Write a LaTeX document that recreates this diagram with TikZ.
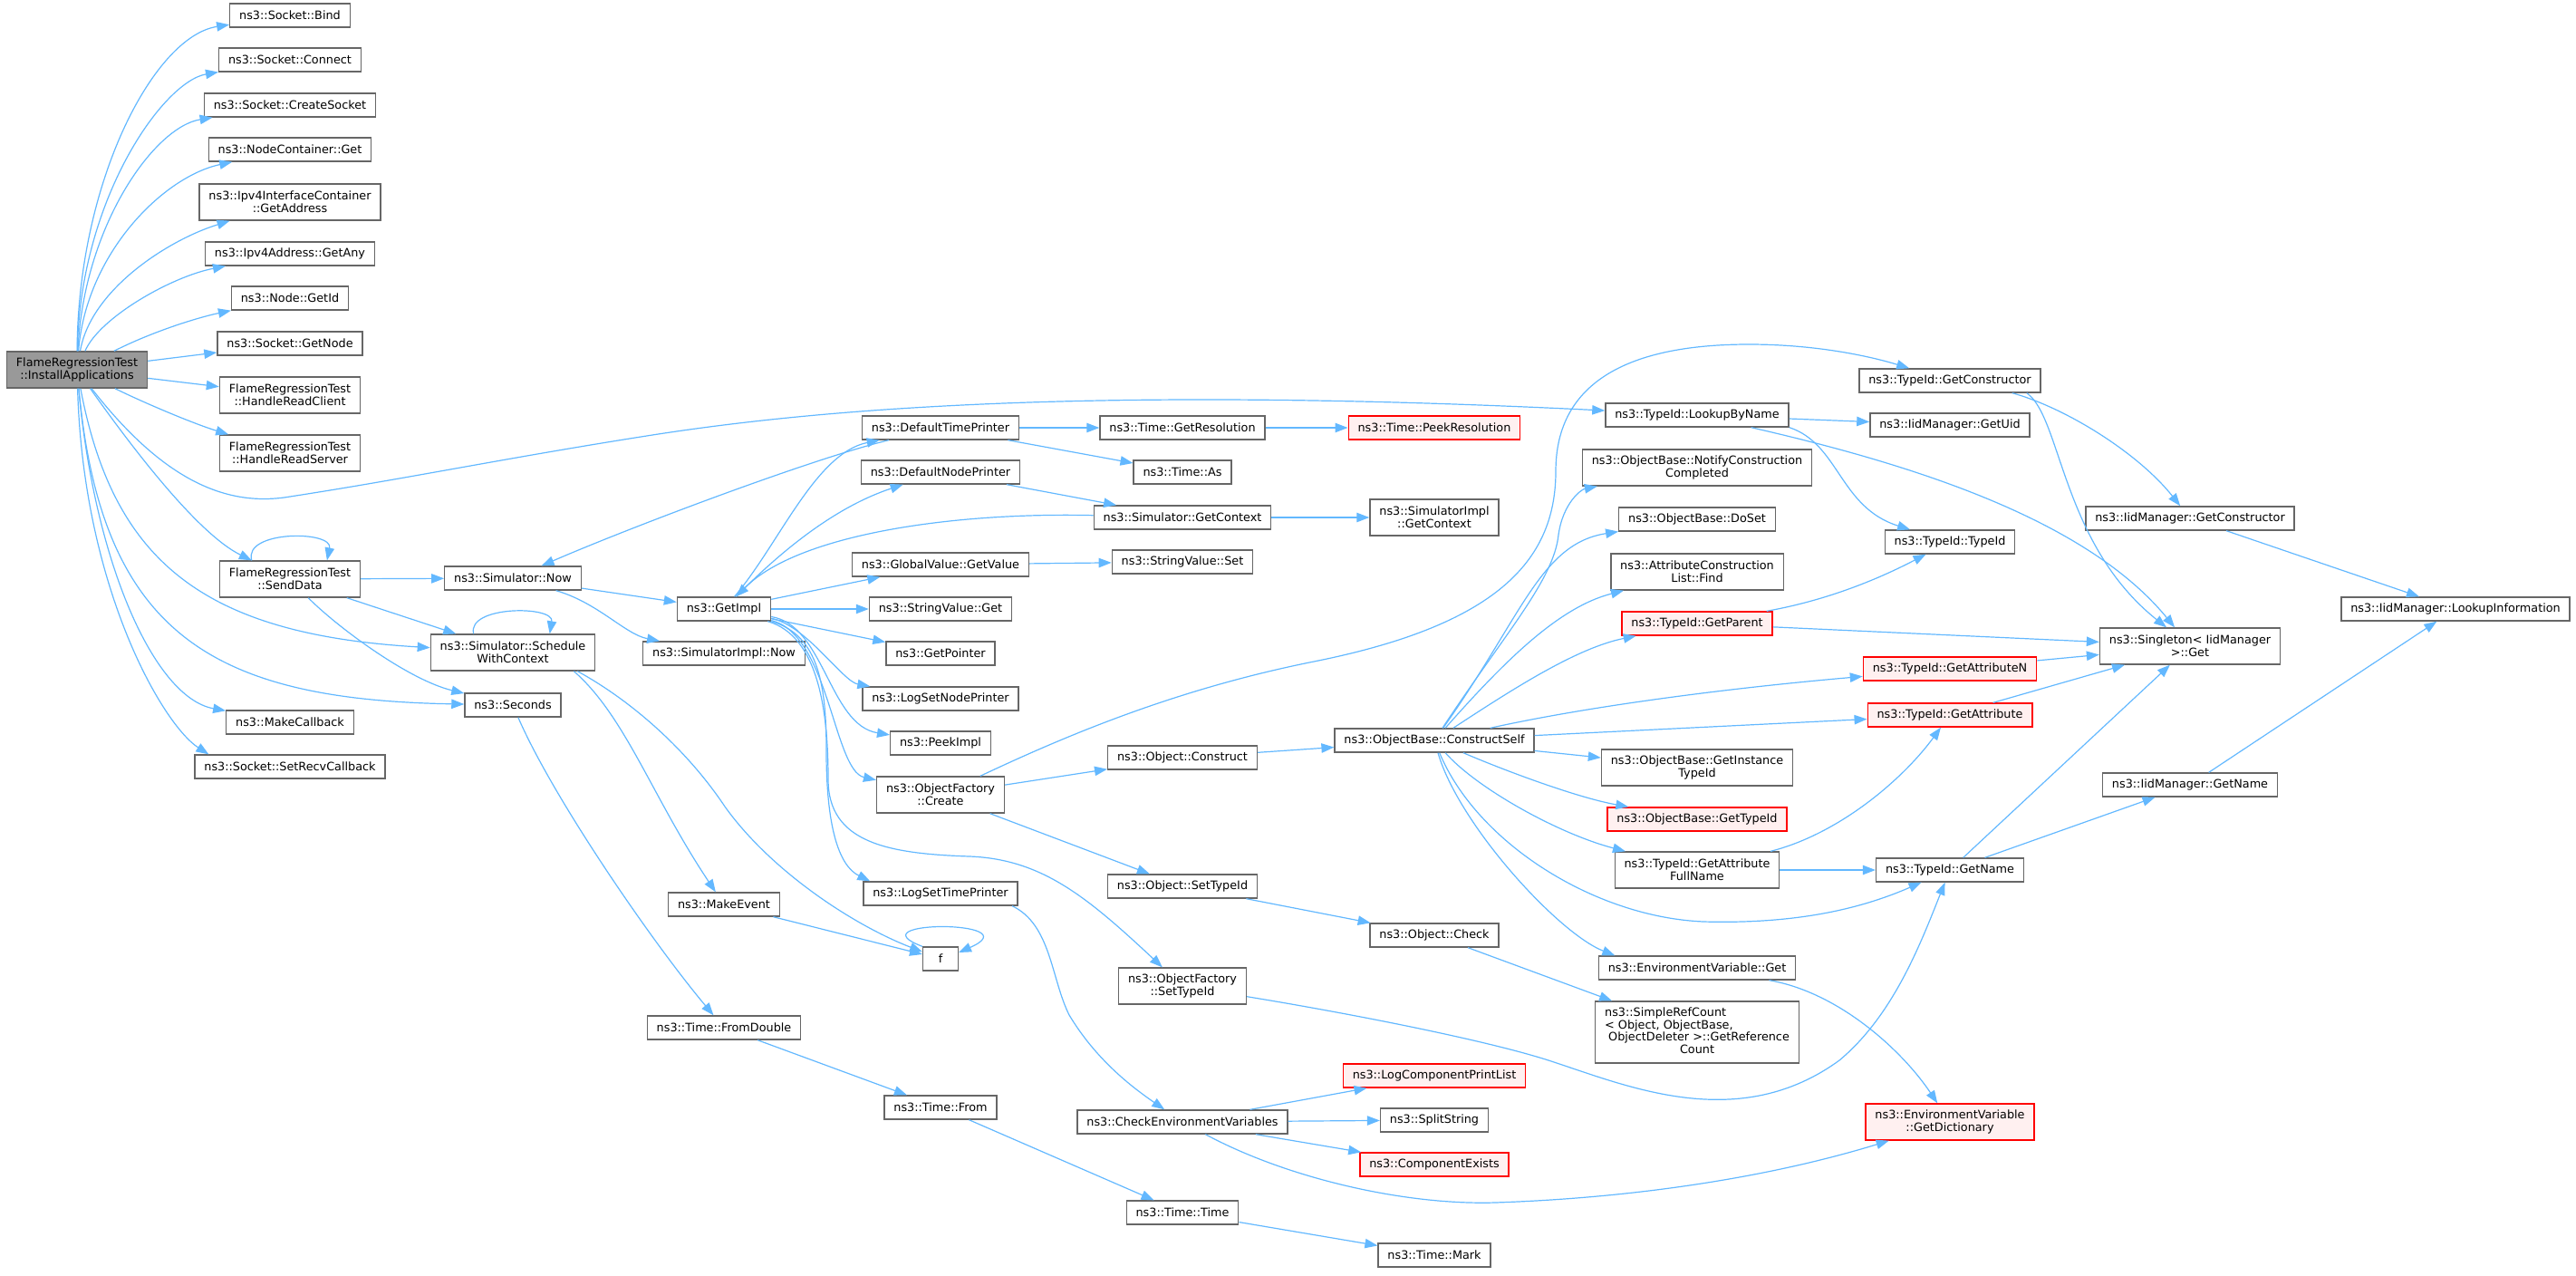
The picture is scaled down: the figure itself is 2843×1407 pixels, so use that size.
\documentclass[tikz,border=0pt]{standalone}
\usepackage{fontspec}
\setmainfont{DejaVu Sans}
\usepackage{tikz}
\usetikzlibrary{arrows.meta}
\definecolor{edgeblue}{HTML}{63B8FF}
\definecolor{boxgray}{HTML}{666666}
\definecolor{rootgray}{HTML}{999999}
\definecolor{missfill}{HTML}{FFF0F0}

\begin{document}
\begin{tikzpicture}[x=0.75pt, y=-0.75pt,
    fn/.style={draw=boxgray, fill=white, line width=1pt, rectangle, align=center,
        inner xsep=7.8pt, inner ysep=2pt, minimum height=19.5pt,
        font=\fontsize{9.6}{10.2}\selectfont},
    fnroot/.style={fn, fill=rootgray},
    fnred/.style={fn, draw=red, fill=missfill},
    dbl/.style={minimum height=30pt},
    quad/.style={minimum height=51pt},
    calls/.style={draw=edgeblue, line width=0.9pt, -{Triangle[length=10.5pt,width=7.8pt]}}]
    \useasboundingbox (0,0) rectangle (2843,1407);

    % Root of the graph
    \node[fnroot, dbl] (IA) at (85,408) {FlameRegressionTest\\::InstallApplications};

    % Second rank
    \node[fn] (SBind)    at (320,17)  {ns3::Socket::Bind};
    \node[fn] (SConn)    at (320,66)  {ns3::Socket::Connect};
    \node[fn] (SCreate)  at (320,116) {ns3::Socket::CreateSocket};
    \node[fn] (NCGet)    at (320,165) {ns3::NodeContainer::Get};
    \node[fn, dbl] (IfAddr) at (320,223) {ns3::Ipv4InterfaceContainer\\::GetAddress};
    \node[fn] (AnyAddr)  at (320,280) {ns3::Ipv4Address::GetAny};
    \node[fn] (NGetId)   at (320,329) {ns3::Node::GetId};
    \node[fn] (SGetNode) at (320,379) {ns3::Socket::GetNode};
    \node[fn, dbl] (HRC) at (320,436) {FlameRegressionTest\\::HandleReadClient};
    \node[fn, dbl] (HRS) at (320,500) {FlameRegressionTest\\::HandleReadServer};
    \node[fn, dbl] (SD)  at (320,639) {FlameRegressionTest\\::SendData};
    \node[fn] (MCb)      at (320,797) {ns3::MakeCallback};
    \node[fn] (SRCb)     at (320,846) {ns3::Socket::SetRecvCallback};

    % Third rank
    \node[fn] (SNow)     at (566,638) {ns3::Simulator::Now};
    \node[fn, dbl] (SWC) at (566,720) {ns3::Simulator::Schedule\\WithContext};
    \node[fn] (Sec)      at (566,778) {ns3::Seconds};

    % Fourth rank
    \node[fn] (GI)       at (799,672)  {ns3::GetImpl};
    \node[fn] (SINow)    at (799,721)  {ns3::SimulatorImpl::Now};
    \node[fn] (MEv)      at (799,998)  {ns3::MakeEvent};
    \node[fn] (TFD)      at (799,1134) {ns3::Time::FromDouble};

    % Fifth rank
    \node[fn] (DTP)      at (1038,472)  {ns3::DefaultTimePrinter};
    \node[fn] (DNP)      at (1038,521)  {ns3::DefaultNodePrinter};
    \node[fn] (GVGet)    at (1038,623)  {ns3::GlobalValue::GetValue};
    \node[fn] (SVGet)    at (1038,672)  {ns3::StringValue::Get};
    \node[fn] (GPtr)     at (1038,721)  {ns3::GetPointer};
    \node[fn] (LSNP)     at (1038,771)  {ns3::LogSetNodePrinter};
    \node[fn] (PImpl)    at (1038,820)  {ns3::PeekImpl};
    \node[fn, dbl] (OFC) at (1038,877)  {ns3::ObjectFactory\\::Create};
    \node[fn] (LSTP)     at (1038,986)  {ns3::LogSetTimePrinter};
    \node[fn, minimum width=29pt] (F) at (1038,1058) {f};
    \node[fn] (TFrom)    at (1038,1222) {ns3::Time::From};

    % Sixth rank
    \node[fn] (TGR)      at (1305,472)  {ns3::Time::GetResolution};
    \node[fn] (TAs)      at (1305,521)  {ns3::Time::As};
    \node[fn] (SGC)      at (1305,571)  {ns3::Simulator::GetContext};
    \node[fn] (SVSet)    at (1305,620)  {ns3::StringValue::Set};
    \node[fn] (OCon)     at (1305,836)  {ns3::Object::Construct};
    \node[fn] (OSTI)     at (1305,978)  {ns3::Object::SetTypeId};
    \node[fn, dbl] (OFSTI) at (1305,1088) {ns3::ObjectFactory\\::SetTypeId};
    \node[fn] (CEV)      at (1305,1238) {ns3::CheckEnvironmentVariables};
    \node[fn] (TTime)    at (1305,1338) {ns3::Time::Time};

    % Seventh rank
    \node[fnred] (TPR)   at (1583,472)  {ns3::Time::PeekResolution};
    \node[fn, dbl] (SIGC) at (1583,571) {ns3::SimulatorImpl\\::GetContext};
    \node[fn] (CS)       at (1583,817)  {ns3::ObjectBase::ConstructSelf};
    \node[fn] (OCheck)   at (1583,1032) {ns3::Object::Check};
    \node[fnred] (LCPL)  at (1583,1187) {ns3::LogComponentPrintList};
    \node[fn] (Split)    at (1583,1236) {ns3::SplitString};
    \node[fnred] (CExist) at (1583,1285) {ns3::ComponentExists};
    \node[fn] (TMark)    at (1583,1385) {ns3::Time::Mark};

    % Eighth rank
    \node[fn] (LBN)      at (1873,458)  {ns3::TypeId::LookupByName};
    \node[fn, dbl] (NCC) at (1873,516)  {ns3::ObjectBase::NotifyConstruction\\Completed};
    \node[fn] (DoSet)    at (1873,573)  {ns3::ObjectBase::DoSet};
    \node[fn, dbl] (ACLF) at (1873,631) {ns3::AttributeConstruction\\List::Find};
    \node[fnred] (GPar)  at (1873,688)  {ns3::TypeId::GetParent};
    \node[fn, dbl] (GITI) at (1873,847) {ns3::ObjectBase::GetInstance\\TypeId};
    \node[fnred] (OBGTI) at (1873,904)  {ns3::ObjectBase::GetTypeId};
    \node[fn, dbl] (GAFN) at (1873,960) {ns3::TypeId::GetAttribute\\FullName};
    \node[fn] (EVGet)    at (1873,1068) {ns3::EnvironmentVariable::Get};
    \node[fn, quad] (SRC) at (1873,1139) {\begin{tabular}{@{}l@{}}ns3::SimpleRefCount\\< Object, ObjectBase,\\\ ObjectDeleter >::GetReference\\\multicolumn{1}{@{}c@{}}{Count}\end{tabular}};

    % Ninth rank
    \node[fn] (GCtor)    at (2152,420)  {ns3::TypeId::GetConstructor};
    \node[fn] (GUid)     at (2152,469)  {ns3::IidManager::GetUid};
    \node[fn] (TTI)      at (2152,598)  {ns3::TypeId::TypeId};
    \node[fnred] (GAN)   at (2152,738)  {ns3::TypeId::GetAttributeN};
    \node[fnred] (GA)    at (2152,789)  {ns3::TypeId::GetAttribute};
    \node[fn] (GName)    at (2152,960)  {ns3::TypeId::GetName};
    \node[fnred, dbl] (GDict) at (2152,1238) {ns3::EnvironmentVariable\\::GetDictionary};

    % Last ranks
    \node[fn] (IMGC)     at (2417,572)  {ns3::IidManager::GetConstructor};
    \node[fn, dbl] (SingG) at (2417,713) {ns3::Singleton< IidManager\\ >::Get};
    \node[fn] (IMGN)     at (2417,866)  {ns3::IidManager::GetName};
    \node[fn] (LInfo)    at (2710,672)  {ns3::IidManager::LookupInformation};

    % Calls made by InstallApplications
    \draw[calls] (IA) .. controls (86,200) and (170,40) .. (SBind);
    \draw[calls] (IA) .. controls (88,220) and (180,90) .. (SConn);
    \draw[calls] (IA) .. controls (92,250) and (170,140) .. (SCreate);
    \draw[calls] (IA) .. controls (95,280) and (180,195) .. (NCGet);
    \draw[calls] (IA) .. controls (100,320) and (185,265) .. (IfAddr);
    \draw[calls] (IA) .. controls (110,350) and (190,305) .. (AnyAddr);
    \draw[calls] (IA) .. controls (170,365) and (220,350) .. (NGetId);
    \draw[calls] (IA) -- (SGetNode);
    \draw[calls] (IA) -- (HRC);
    \draw[calls] (IA) .. controls (160,445) and (215,468) .. (HRS);
    \draw[calls] (IA) .. controls (180,530) and (250,560) .. (320,548) .. controls (450,528) and (560,505) .. (720,480) .. controls (900,452) and (1200,425) .. (LBN);
    \draw[calls] (IA) .. controls (150,500) and (220,590) .. (SD);
    \draw[calls] (IA) .. controls (125,620) and (225,700) .. (SWC);
    \draw[calls] (IA) .. controls (112,700) and (235,772) .. (Sec);
    \draw[calls] (IA) .. controls (104,620) and (170,770) .. (MCb);
    \draw[calls] (IA) .. controls (92,650) and (180,800) .. ([xshift=12pt]SRCb.north west);

    % SendData and the simulator
    \draw[calls] ([xshift=27pt]SD.north west) .. controls (268,585) and (368,585) .. ([xshift=-28pt]SD.north east);
    \draw[calls] (SD) -- (SNow);
    \draw[calls] (SD) -- (SWC);
    \draw[calls] (SD) .. controls (370,690) and (450,750) .. (Sec);
    \draw[calls] (SNow) -- (GI);
    \draw[calls] (SNow) .. controls (660,665) and (690,700) .. (SINow);
    \draw[calls] ([xshift=36pt]SWC.north west) .. controls (515,668) and (612,668) .. ([xshift=-38pt]SWC.north east);
    \draw[calls] ([xshift=-18pt]SWC.south east) .. controls (690,790) and (720,880) .. (MEv);
    \draw[calls] ([xshift=-15pt]SWC.south east) .. controls (700,775) and (760,830) .. (800,890) .. controls (850,960) and (940,1020) .. (F);
    \draw[calls] (Sec) .. controls (610,880) and (720,1040) .. (TFD);

    % GetImpl and the printers
    \draw[calls] (DTP) .. controls (900,505) and (700,580) .. (SNow);
    \draw[calls] (GI) .. controls (860,600) and (900,500) .. (DTP);
    \draw[calls] (GI) .. controls (860,610) and (920,560) .. (DNP);
    \draw[calls] (SGC) .. controls (1050,565) and (880,590) .. (GI);
    \draw[calls] (GI) -- (GVGet);
    \draw[calls] (GI) -- (SVGet);
    \draw[calls] (GI) -- (GPtr);
    \draw[calls] (GI) .. controls (890,690) and (930,752) .. (LSNP);
    \draw[calls] (GI) .. controls (910,690) and (915,800) .. (PImpl);
    \draw[calls] (GI) .. controls (915,700) and (920,850) .. (OFC);
    \draw[calls] (GI) .. controls (905,700) and (912,760) .. (912,830) .. controls (912,910) and (925,955) .. ([xshift=6pt]LSTP.north west);
    \draw[calls] (GI) .. controls (905,702) and (914,790) .. (914,860) .. controls (914,930) and (980,942) .. (1070,945) .. controls (1150,948) and (1200,990) .. (OFSTI);
    \draw[calls] (DTP) -- (TGR);
    \draw[calls] (DTP) -- (TAs);
    \draw[calls] (TGR) -- (TPR);
    \draw[calls] (DNP) -- (SGC);
    \draw[calls] (SGC) -- (SIGC);
    \draw[calls] (GVGet) -- (SVSet);

    % Object factory
    \draw[calls] (OFC) .. controls (1180,810) and (1300,760) .. (1450,730) .. controls (1650,690) and (1717,620) .. (1717,520) .. controls (1717,420) and (1800,380) .. (1930,380) .. controls (2010,380) and (2070,395) .. (GCtor);
    \draw[calls] (OFC) -- (OCon);
    \draw[calls] (OFC) -- (OSTI);
    \draw[calls] (OCon) -- (CS);
    \draw[calls] (OSTI) -- (OCheck);
    \draw[calls] (OCheck) -- (SRC);
    \draw[calls] (OFSTI) .. controls (1500,1120) and (1650,1150) .. (1715,1172) .. controls (1800,1200) and (1920,1250) .. (2030,1170) .. controls (2090,1120) and (2120,1040) .. (GName);

    % Events, time and logging
    \draw[calls] (MEv) -- (F);
    \draw[calls] (F.north west) .. controls (940,1015) and (1140,1015) .. ([yshift=-5pt]F.north east);
    \draw[calls] (TFD) -- (TFrom);
    \draw[calls] (TFrom) -- (TTime);
    \draw[calls] (TTime) -- (TMark);
    \draw[calls] ([xshift=-5pt]LSTP.south east) .. controls (1160,1020) and (1160,1080) .. (1180,1120) .. controls (1210,1170) and (1250,1200) .. (CEV);
    \draw[calls] (CEV) -- (LCPL);
    \draw[calls] (CEV) -- (Split);
    \draw[calls] (CEV) -- (CExist);
    \draw[calls] (CEV) .. controls (1420,1300) and (1550,1330) .. (1650,1327) .. controls (1800,1322) and (1950,1300) .. (GDict);

    % ConstructSelf
    \draw[calls] (CS) .. controls (1660,700) and (1715,640) .. (1720,590) .. controls (1725,555) and (1745,540) .. (NCC);
    \draw[calls] (CS) .. controls (1680,680) and (1700,600) .. (DoSet);
    \draw[calls] (CS) .. controls (1660,730) and (1720,670) .. (ACLF);
    \draw[calls] (CS) .. controls (1670,760) and (1740,715) .. (GPar);
    \draw[calls] (CS) .. controls (1750,780) and (1900,760) .. (GAN);
    \draw[calls] (CS) -- (GA);
    \draw[calls] (CS) -- (GITI);
    \draw[calls] (CS) .. controls (1660,850) and (1740,880) .. (OBGTI);
    \draw[calls] (CS) .. controls (1630,870) and (1720,920) .. (GAFN);
    \draw[calls] (CS) .. controls (1630,930) and (1760,1012) .. (1880,1017) .. controls (1990,1020) and (2060,1000) .. (GName);
    \draw[calls] (CS) .. controls (1610,910) and (1720,1030) .. ([xshift=14pt]EVGet.north west);

    % TypeId and IidManager
    \draw[calls] (LBN) -- (GUid);
    \draw[calls] (LBN.south east) .. controls (2030,490) and (2030,560) .. (TTI);
    \draw[calls] (LBN) .. controls (2100,510) and (2300,570) .. (SingG);
    \draw[calls] (GPar) .. controls (2030,660) and (2090,630) .. (TTI);
    \draw[calls] (GPar) -- (SingG);
    \draw[calls] (GAN) -- (SingG);
    \draw[calls] (GA) -- (SingG);
    \draw[calls] (GAFN) .. controls (2030,920) and (2100,860) .. (GA);
    \draw[calls] (GAFN) -- (GName);
    \draw[calls] (EVGet) .. controls (2030,1095) and (2100,1160) .. (GDict);
    \draw[calls] (GName) -- (SingG);
    \draw[calls] (GName) -- (IMGN);
    \draw[calls] ([xshift=-24pt]GCtor.south east) .. controls (2280,450) and (2360,500) .. (IMGC);
    \draw[calls] ([xshift=-12pt]GCtor.south east) .. controls (2275,460) and (2275,600) .. (SingG);
    \draw[calls] (IMGC) -- (LInfo);
    \draw[calls] (IMGN) -- (LInfo);
\end{tikzpicture}
\end{document}
